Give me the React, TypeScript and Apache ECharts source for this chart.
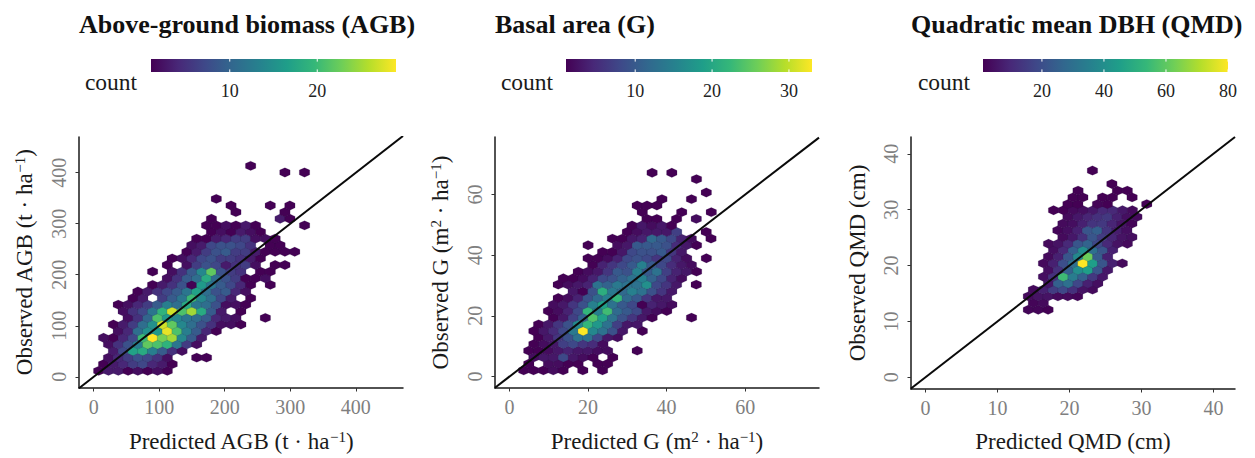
import React, { useEffect, useRef } from "react";
import * as echarts from "echarts";

const FONT = "Liberation Serif";
const viridis = ["#440154", "#482878", "#3e4989", "#31688e", "#26828e", "#1f9e89", "#35b779", "#6ece58", "#b5de2b", "#fde725"];

// Above-ground biomass: hexagon rows (centre y, first centre x, counts along the row, 0 = empty cell)
const agbStepX = 14.96;
const agbStepY = 12.96;
const agbMaxCount = 29;
const agbRowY = [11.7, 24.7, 37.6, 50.6, 63.5, 76.5, 89.5, 102.4, 115.4, 128.3, 141.3, 154.3, 167.2, 180.2, 193.1, 206.1, 219.1, 232, 245, 257.9, 270.9, 283.9, 296.8, 309.8, 322.7, 335.7, 348.7, 400.5, 413.5];
const agbRowX = [7.6, 15.1, 22.6, 30.1, 22.6, 15.1, 37.5, 30.1, 52.5, 45, 37.5, 60, 67.4, 89.9, 112.3, 89.9, 112.3, 119.8, 142.2, 149.7, 157.2, 179.7, 172.2, 179.7, 217, 209.6, 187.1, 291.8, 239.5];
const agbRowCounts = [
  [1, 3, 3, 1, 2, 1, 2, 1],
  [1, 3, 4, 6, 7, 4, 3, 1],
  [2, 4, 6, 8, 7, 5, 2, 0, 0, 1, 1],
  [3, 7, 17, 18, 13, 9, 5, 2],
  [2, 5, 8, 13, 22, 21, 19, 12, 6, 2],
  [2, 1, 4, 7, 20, 29, 23, 25, 14, 9, 3],
  [2, 4, 11, 15, 16, 28, 21, 13, 9, 4, 1],
  [1, 3, 6, 11, 15, 27, 22, 14, 11, 8, 5, 2, 2, 1],
  [2, 5, 10, 21, 16, 14, 12, 11, 9, 4, 3, 2, 0, 0, 1],
  [2, 5, 7, 12, 19, 27, 21, 25, 18, 9, 3, 0, 1],
  [1, 2, 4, 6, 9, 13, 11, 18, 12, 11, 8, 2, 2, 1],
  [1, 3, 0, 6, 9, 12, 20, 14, 11, 7, 3, 0, 1],
  [1, 3, 5, 7, 9, 12, 17, 11, 8, 9, 4, 2],
  [1, 3, 5, 8, 1, 16, 12, 9, 7, 4, 1, 0, 1],
  [2, 5, 9, 11, 18, 11, 8, 6, 1, 1, 2],
  [1, 0, 2, 5, 9, 14, 22, 8, 6, 5, 0, 1, 1],
  [1, 0, 2, 6, 8, 7, 3, 5, 6, 2, 0, 1, 1],
  [1, 2, 4, 7, 8, 6, 6, 5, 3, 1],
  [1, 3, 6, 8, 9, 6, 6, 3, 1, 1, 1, 1],
  [2, 3, 7, 8, 8, 7, 5, 0, 1, 1],
  [1, 1, 3, 4, 6, 6, 2, 2, 1],
  [1, 2, 1, 3, 2, 1],
  [1, 1, 2, 1, 3, 1, 0, 0, 0, 0, 1],
  [1, 0, 0, 0, 0, 0, 0, 3, 1],
  [1, 0, 0, 0, 0, 1],
  [1, 0, 0, 0, 1, 0, 1],
  [1],
  [1, 0, 1],
  [1],
];

// Basal area
const gStepX = 2.51;
const gStepY = 2.175;
const gMaxCount = 33;
const gRowY = [2, 4.2, 6.3, 8.5, 10.7, 12.9, 15, 17.2, 19.4, 21.6, 23.7, 25.9, 28.1, 30.3, 32.4, 34.6, 36.8, 39, 41.1, 43.3, 45.5, 47.7, 49.8, 52, 54.2, 56.4, 58.5, 60.7, 65.1, 67.2];
const gRowX = [3.6, 4.9, 6.2, 4.9, 6.2, 7.4, 6.2, 7.4, 11.2, 9.9, 11.2, 12.4, 16.2, 12.4, 13.7, 17.5, 21.2, 20, 23.7, 20, 26.2, 30, 31.2, 35, 33.8, 32.5, 38.8, 50.1, 47.6, 36.3];
const gRowCounts = [
  [1, 1, 1, 2, 1, 0, 1, 0, 1],
  [1, 0, 2, 2, 1, 1, 0, 1, 1],
  [2, 3, 3, 8, 3, 2, 1, 0, 1],
  [1, 1, 2, 3, 4, 3, 3, 2, 2, 0, 0, 1],
  [1, 2, 3, 7, 8, 6, 5, 2],
  [1, 3, 6, 9, 13, 13, 8, 3, 2],
  [1, 3, 5, 8, 14, 33, 16, 13, 9, 3, 0, 1],
  [1, 3, 6, 9, 16, 22, 18, 13, 7, 3, 3],
  [1, 3, 7, 11, 24, 19, 13, 9, 6, 3, 1, 0, 0, 0, 1],
  [1, 2, 4, 8, 22, 15, 23, 12, 10, 8, 3, 2, 1],
  [2, 3, 6, 9, 15, 19, 13, 10, 8, 1, 4, 3, 2],
  [1, 2, 4, 9, 12, 15, 22, 12, 10, 6, 3, 3],
  [3, 1, 9, 21, 14, 12, 15, 13, 9, 6, 3],
  [1, 2, 3, 4, 13, 11, 14, 13, 13, 17, 8, 6, 3, 0, 1],
  [1, 1, 2, 4, 8, 9, 11, 13, 15, 11, 8, 4, 2],
  [1, 2, 3, 6, 10, 9, 15, 10, 13, 7, 4, 3, 1],
  [1, 4, 6, 8, 10, 15, 10, 8, 5, 3, 2],
  [1, 1, 2, 4, 8, 9, 8, 6, 8, 4, 2, 0, 1],
  [1, 1, 3, 8, 9, 9, 10, 6, 3],
  [1, 0, 0, 2, 3, 10, 10, 10, 9, 5, 3, 1],
  [1, 1, 3, 4, 12, 10, 8, 4, 2, 0, 1],
  [1, 2, 3, 3, 3, 7, 0, 0, 1],
  [1, 3, 2, 3, 1],
  [1, 1, 0, 1, 0, 2],
  [1, 0, 0, 0, 1, 0, 0, 1],
  [1, 1, 1],
  [1, 0, 0, 1],
  [1],
  [1],
  [1, 0, 1],
];

// Quadratic mean DBH
const qmdStepX = 1.368;
const qmdStepY = 1.184;
const qmdMaxCount = 80;
const qmdRowY = [12.1, 13.3, 14.5, 15.7, 16.8, 18, 19.2, 20.4, 21.6, 22.8, 23.9, 25.1, 26.3, 27.5, 28.7, 29.9, 31, 32.2, 33.4, 34.6, 37];
const qmdRowX = [14.3, 15, 14.3, 15, 17.1, 16.4, 17.1, 16.4, 17.1, 17.8, 17.1, 19.1, 18.4, 19.1, 19.8, 17.8, 19.8, 20.5, 21.2, 25.9, 23.2];
const qmdRowCounts = [
  [2, 2, 1],
  [2, 3],
  [3, 5, 5, 3, 3, 2],
  [3, 8, 15, 18, 12, 5, 3],
  [6, 25, 30, 18, 8, 4],
  [4, 12, 55, 34, 25, 14, 6],
  [4, 12, 25, 40, 45, 22, 6],
  [3, 8, 20, 30, 80, 45, 22, 8, 3],
  [3, 8, 22, 38, 62, 24, 8],
  [4, 10, 25, 40, 30, 22, 8],
  [3, 5, 10, 22, 26, 18, 10, 5, 3],
  [3, 6, 12, 22, 15, 9, 5, 4],
  [2, 4, 8, 22, 25, 13, 7, 4],
  [3, 4, 8, 13, 14, 9, 5, 2],
  [3, 6, 9, 12, 14, 8, 4, 3],
  [1, 1, 3, 4, 6, 10, 10, 6, 3],
  [1, 1, 0, 2, 1, 0, 0, 0, 1],
  [1, 1, 0, 1, 1, 0, 1],
  [1, 0, 0, 0, 1, 1],
  [1],
  [1],
];

const agbTicks = [0, 100, 200, 300, 400];
const gTicks = [0, 20, 40, 60];
const qmdTicks = [0, 10, 20, 30, 40];
const agbLegendTicks = [10, 20];
const gLegendTicks = [10, 20, 30];
const qmdLegendTicks = [20, 40, 60, 80];

const titles = ["Above-ground biomass (AGB)", "Basal area (G)", "Quadratic mean DBH (QMD)"];
const xNames = ["{t|Predicted AGB (t · ha}{s|−1}{t|)}", "{t|Predicted G (m}{s|2}{t| · ha}{s|−1}{t|)}", "{t|Predicted QMD (cm)}"];
const yNames = ["{t|Observed AGB (t · ha}{s|−1}{t|)}", "{t|Observed G (m}{s|2}{t| · ha}{s|−1}{t|)}", "{t|Observed QMD (cm)}"];

function colorOf(count: number, max: number) {
  return echarts.color.lerp((count - 1) / (max - 1), viridis) as string;
}

function hexData(rowY: number[], rowX: number[], counts: number[][], stepX: number) {
  const out: number[][] = [];
  rowY.forEach((y, r) =>
    counts[r].forEach((c, i) => {
      if (c > 0) out.push([rowX[r] + i * stepX, y, c]);
    })
  );
  return out;
}

const panels = [
  { left: 79, right: 403, xMin: -22.4, xMax: 472, yMin: -22, yMax: 470, ticks: agbTicks, stepX: agbStepX, stepY: agbStepY, max: agbMaxCount, data: hexData(agbRowY, agbRowX, agbRowCounts, agbStepX), barLeft: 151, barRight: 396, legendTicks: agbLegendTicks, countX: 111, titleX: 79 },
  { left: 495, right: 819, xMin: -3.7, xMax: 78.8, yMin: -3.8, yMax: 79, ticks: gTicks, stepX: gStepX, stepY: gStepY, max: gMaxCount, data: hexData(gRowY, gRowX, gRowCounts, gStepX), barLeft: 566, barRight: 812, legendTicks: gLegendTicks, countX: 527, titleX: 495 },
  { left: 911, right: 1235, xMin: -2, xMax: 43, yMin: -2.08, yMax: 43, ticks: qmdTicks, stepX: qmdStepX, stepY: qmdStepY, max: qmdMaxCount, data: hexData(qmdRowY, qmdRowX, qmdRowCounts, qmdStepX), barLeft: 983, barRight: 1228, legendTicks: qmdLegendTicks, countX: 944, titleX: 911 },
];

const GRID_TOP = 137;
const GRID_HEIGHT = 252;
const BAR_TOP = 59;
const BAR_H = 13;
const HEX_SCALE = 1.06;

function axisCommon(ticks: number[], name: string) {
  return {
    type: "value" as const,
    name,
    nameLocation: "middle" as const,
    nameTextStyle: {
      rich: {
        t: { fontFamily: FONT, fontSize: 23, color: "#1a1a1a" },
        s: { fontFamily: FONT, fontSize: 15, color: "#1a1a1a", padding: [0, 0, 10, 0] },
      },
    },
    splitLine: { show: false },
    axisLine: { show: true, onZero: false, lineStyle: { color: "#1a1a1a", width: 1.5 } },
    axisTick: { show: true, length: 3.5, customValues: ticks, lineStyle: { color: "#333", width: 1 } },
    axisLabel: { customValues: ticks, color: "#7f7f7f", fontFamily: FONT, fontSize: 20, margin: 9, showMinLabel: true, showMaxLabel: true },
  };
}

export default function App() {
  const ref = useRef<HTMLDivElement>(null);
  useEffect(() => {
    const chart = echarts.init(ref.current!, undefined, { renderer: "svg" });
    const graphic: any[] = [];
    const stops = viridis.map((c, i) => ({ offset: i / (viridis.length - 1), color: c }));
    panels.forEach((p) => {
      graphic.push({
        type: "rect",
        shape: { x: p.barLeft, y: BAR_TOP, width: p.barRight - p.barLeft, height: BAR_H },
        style: { fill: new echarts.graphic.LinearGradient(0, 0, 1, 0, stops) },
      });
      const pxPerCount = (p.barRight - p.barLeft) / (p.max - 1);
      p.legendTicks.forEach((t) => {
        const x = p.barLeft + (t - 1) * pxPerCount;
        graphic.push(
          { type: "line", shape: { x1: x, y1: BAR_TOP, x2: x, y2: BAR_TOP + 2.6 }, style: { stroke: "#fff", lineWidth: 1 } },
          { type: "line", shape: { x1: x, y1: BAR_TOP + BAR_H - 2.6, x2: x, y2: BAR_TOP + BAR_H }, style: { stroke: "#fff", lineWidth: 1 } },
          { type: "text", x, y: 91, style: { text: String(t), fontFamily: FONT, fontSize: 18, fill: "#222", align: "center", verticalAlign: "middle" } }
        );
      });
      graphic.push({ type: "text", x: p.countX, y: 82, style: { text: "count", fontFamily: FONT, fontSize: 23.5, fill: "#1a1a1a", align: "center", verticalAlign: "middle" } });
    });

    chart.setOption({
      animation: false,
      title: panels.map((p, i) => ({
        text: titles[i],
        left: p.titleX,
        top: 11,
        padding: 0,
        textStyle: { fontFamily: FONT, fontWeight: "bold", fontSize: 26, color: "#111" },
      })),
      grid: panels.map((p) => ({ left: p.left, width: p.right - p.left, top: GRID_TOP, height: GRID_HEIGHT, containLabel: false })),
      xAxis: panels.map((p, i) => ({ ...axisCommon(p.ticks, xNames[i]), gridIndex: i, min: p.xMin, max: p.xMax, nameGap: 41 })),
      yAxis: panels.map((p, i) => {
        const a = axisCommon(p.ticks, yNames[i]);
        return { ...a, gridIndex: i, min: p.yMin, max: p.yMax, nameGap: 42, axisLabel: { ...a.axisLabel, rotate: 90, margin: 10 } };
      }),
      graphic,
      series: panels.flatMap((p, i) => [
        {
          type: "custom",
          xAxisIndex: i,
          yAxisIndex: i,
          clip: false,
          data: p.data,
          encode: { x: 0, y: 1 },
          renderItem: (_: any, api: any) => {
            const x = api.value(0);
            const y = api.value(1);
            const w = (p.stepX / 2) * HEX_SCALE;
            const h = p.stepY * HEX_SCALE;
            const pts = [
              [x, y + (2 * h) / 3],
              [x + w, y + h / 3],
              [x + w, y - h / 3],
              [x, y - (2 * h) / 3],
              [x - w, y - h / 3],
              [x - w, y + h / 3],
            ].map((q) => api.coord(q));
            return {
              type: "polygon",
              shape: { points: pts },
              style: { fill: colorOf(api.value(2), p.max), stroke: "rgba(35,25,60,0.3)", lineWidth: 0.5 },
            };
          },
          z: 2,
        },
        {
          type: "line",
          xAxisIndex: i,
          yAxisIndex: i,
          clip: true,
          symbol: "none",
          silent: true,
          data: [
            [p.xMin, p.xMin],
            [p.xMax, p.xMax],
          ],
          lineStyle: { color: "#0a0a0a", width: 2 },
          z: 3,
        },
      ]),
    });
    return () => chart.dispose();
  }, []);
  return <div ref={ref} style={{ position: "fixed", left: 0, top: 0, width: 1255, height: 458, background: "#fff" }} />;
}
